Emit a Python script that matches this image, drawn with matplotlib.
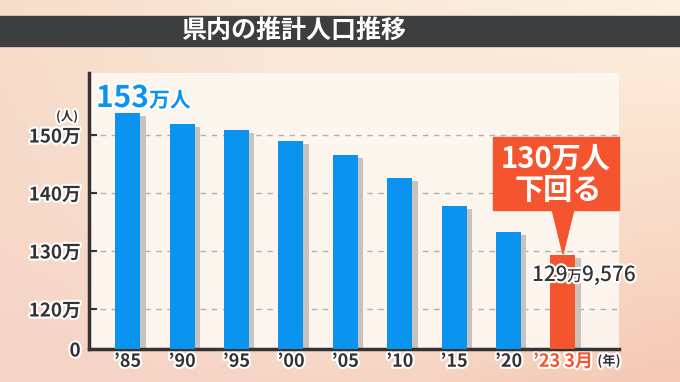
import numpy as np
import matplotlib
matplotlib.use('Agg')
import matplotlib.pyplot as plt
import matplotlib.patheffects as pe
from matplotlib.patches import Rectangle, Polygon

plt.rcParams['font.family'] = ['Noto Sans CJK JP', 'DejaVu Sans']

# data (population, 万人)
years = ['’85', '’90', '’95', '’00', '’05', '’10', '’15', '’20', '’23 3月']
pop = [153.8, 151.9, 150.9, 149.0, 146.6, 142.6, 137.7, 133.2, 129.3]
yticks = [0, 120, 130, 140, 150]
ytick_labels = ['0', '120万', '130万', '140万', '150万']
title = '県内の推計人口推移'
peak_num, peak_unit = '153', '万人'
callout = ['130万人', '下回る']
last_parts = ['129', '万', '9,576']

BLUE = '#0a94f0'
RED = '#f4552e'
DARK = '#333333'
SHADOW = '#c9c3bd'

# broken axis: 0..120 squeezed, 10万 per step above 120
BRK = 120.0
LOW = 40 / 5.8  # height of 0-120 segment in upper-step units


def fwd(v):
    v = np.asarray(v, dtype=float)
    return np.where(v >= BRK, v - BRK + LOW, v * LOW / BRK)


def inv(t):
    t = np.asarray(t, dtype=float)
    return np.where(t >= LOW, t - LOW + BRK, t * BRK / LOW)


W, H = 680, 382
fig = plt.figure(figsize=(W / 100, H / 100), dpi=100)


def fx(x):
    return x / W


def fy(y):
    return 1 - y / H


# background gradient
bg = fig.add_axes([0, 0, 1, 1], zorder=-10)
gx, gy = np.meshgrid(np.linspace(0, 1, 200), np.linspace(0, 1, 120))
tl = np.array([247, 220, 200]) / 255
tr = np.array([253, 241, 224]) / 255
bl = np.array([245, 210, 198]) / 255
br = np.array([245, 200, 178]) / 255
img = (tl * ((1 - gx) * (1 - gy))[..., None] + tr * (gx * (1 - gy))[..., None]
       + bl * ((1 - gx) * gy)[..., None] + br * (gx * gy)[..., None])
blob = np.exp(-(((gx - 0.5) / 0.35) ** 2 + ((gy - 0.45) / 0.6) ** 2))[..., None]
img = img * (1 - 0.5 * blob) + np.array([252, 240, 226]) / 255 * 0.5 * blob
bg.imshow(img, aspect='auto', extent=[0, 1, 1, 0])
bg.set_xlim(0, 1)
bg.set_ylim(1, 0)
bg.axis('off')

# title bar
fig.patches.append(Rectangle((0, fy(46)), 1, fy(16) - fy(46), transform=fig.transFigure,
                             color='#3d3e40', zorder=1))
fig.text(fx(294), fy(31), title, color='white', fontsize=18, fontweight='bold',
         ha='center', va='center')

# main axes
ax = fig.add_axes([fx(89), fy(349), fx(619) - fx(89), fy(73) - fy(349)])
ax.set_facecolor((0.992, 0.972, 0.95, 0.9))
ax.set_yscale('function', functions=(fwd, inv))
x = np.arange(len(years))
colors = [BLUE] * (len(years) - 1) + [RED]

ax.bar(x + 0.1, np.array(pop) - 0.5, width=0.46, color=SHADOW, zorder=2)
ax.bar(x, pop, width=0.46, color=colors, zorder=3)

ax.set_xlim(-0.71, 9.03)
ax.set_ylim(0, 160.7)
ax.set_yticks(yticks)
ax.set_yticklabels(ytick_labels)
ax.set_xticks(x)
ax.set_xticklabels(years)
ax.tick_params(axis='x', length=0, pad=2, labelsize=13, labelcolor=DARK)
ax.tick_params(axis='y', direction='in', length=6, width=1.5, color=DARK,
               pad=6, labelsize=13.5)
stroke = [pe.withStroke(linewidth=3, foreground='white')]
for t in ax.get_yticklabels() + ax.get_xticklabels():
    t.set_fontweight('bold')
    t.set_path_effects(stroke)
    t.set_color(DARK)
ax.get_xticklabels()[-1].set_color(RED)

for v in yticks[1:]:
    ax.axhline(v, color='#b5afaa', lw=1, ls=(0, (4, 4)), zorder=1)

for s in ['top', 'right']:
    ax.spines[s].set_visible(False)
for s in ['left', 'bottom']:
    ax.spines[s].set_color(DARK)
    ax.spines[s].set_linewidth(2.5)

# unit labels
fig.text(fx(67), fy(117), '(人)', fontsize=9, color=DARK, ha='center', va='center',
         fontweight='bold', path_effects=stroke)
fig.text(fx(609), fy(361), '(年)', fontsize=9.5, color=DARK, ha='center', va='center',
         fontweight='bold', path_effects=stroke)

# peak label
fig.text(fx(96), fy(107), peak_num, fontsize=21.5, color=BLUE, fontweight='bold',
         ha='left', va='baseline', path_effects=stroke)
fig.text(fx(149), fy(107), peak_unit, fontsize=15, color=BLUE, fontweight='bold',
         ha='left', va='baseline', path_effects=stroke)

# callout box
fig.patches.append(Rectangle((fx(493), fy(210)), fx(619) - fx(493), fy(137) - fy(210),
                             transform=fig.transFigure, color=RED, zorder=5))
fig.patches.append(Polygon([(fx(552), fy(209)), (fx(574), fy(209)), (fx(563), fy(254))],
                           closed=True, transform=fig.transFigure, color=RED, zorder=5))
fig.text(fx(556), fy(159), callout[0], fontsize=21, color='white', fontweight='bold',
         ha='center', va='center', zorder=6)
fig.text(fx(558), fy(190), callout[1], fontsize=21, color='white', fontweight='bold',
         ha='center', va='center', zorder=6)

# latest value
fig.text(fx(532), fy(281), last_parts[0], fontsize=15, color=DARK, ha='left',
         fontweight='medium', va='baseline', path_effects=stroke, zorder=7)
fig.text(fx(567), fy(281), last_parts[1], fontsize=11, color=DARK, ha='left',
         fontweight='medium', va='baseline', path_effects=stroke, zorder=7)
fig.text(fx(582), fy(281), last_parts[2], fontsize=15, color=DARK, ha='left',
         fontweight='medium', va='baseline', path_effects=stroke, zorder=7)

fig.savefig('out.png', dpi=100)
